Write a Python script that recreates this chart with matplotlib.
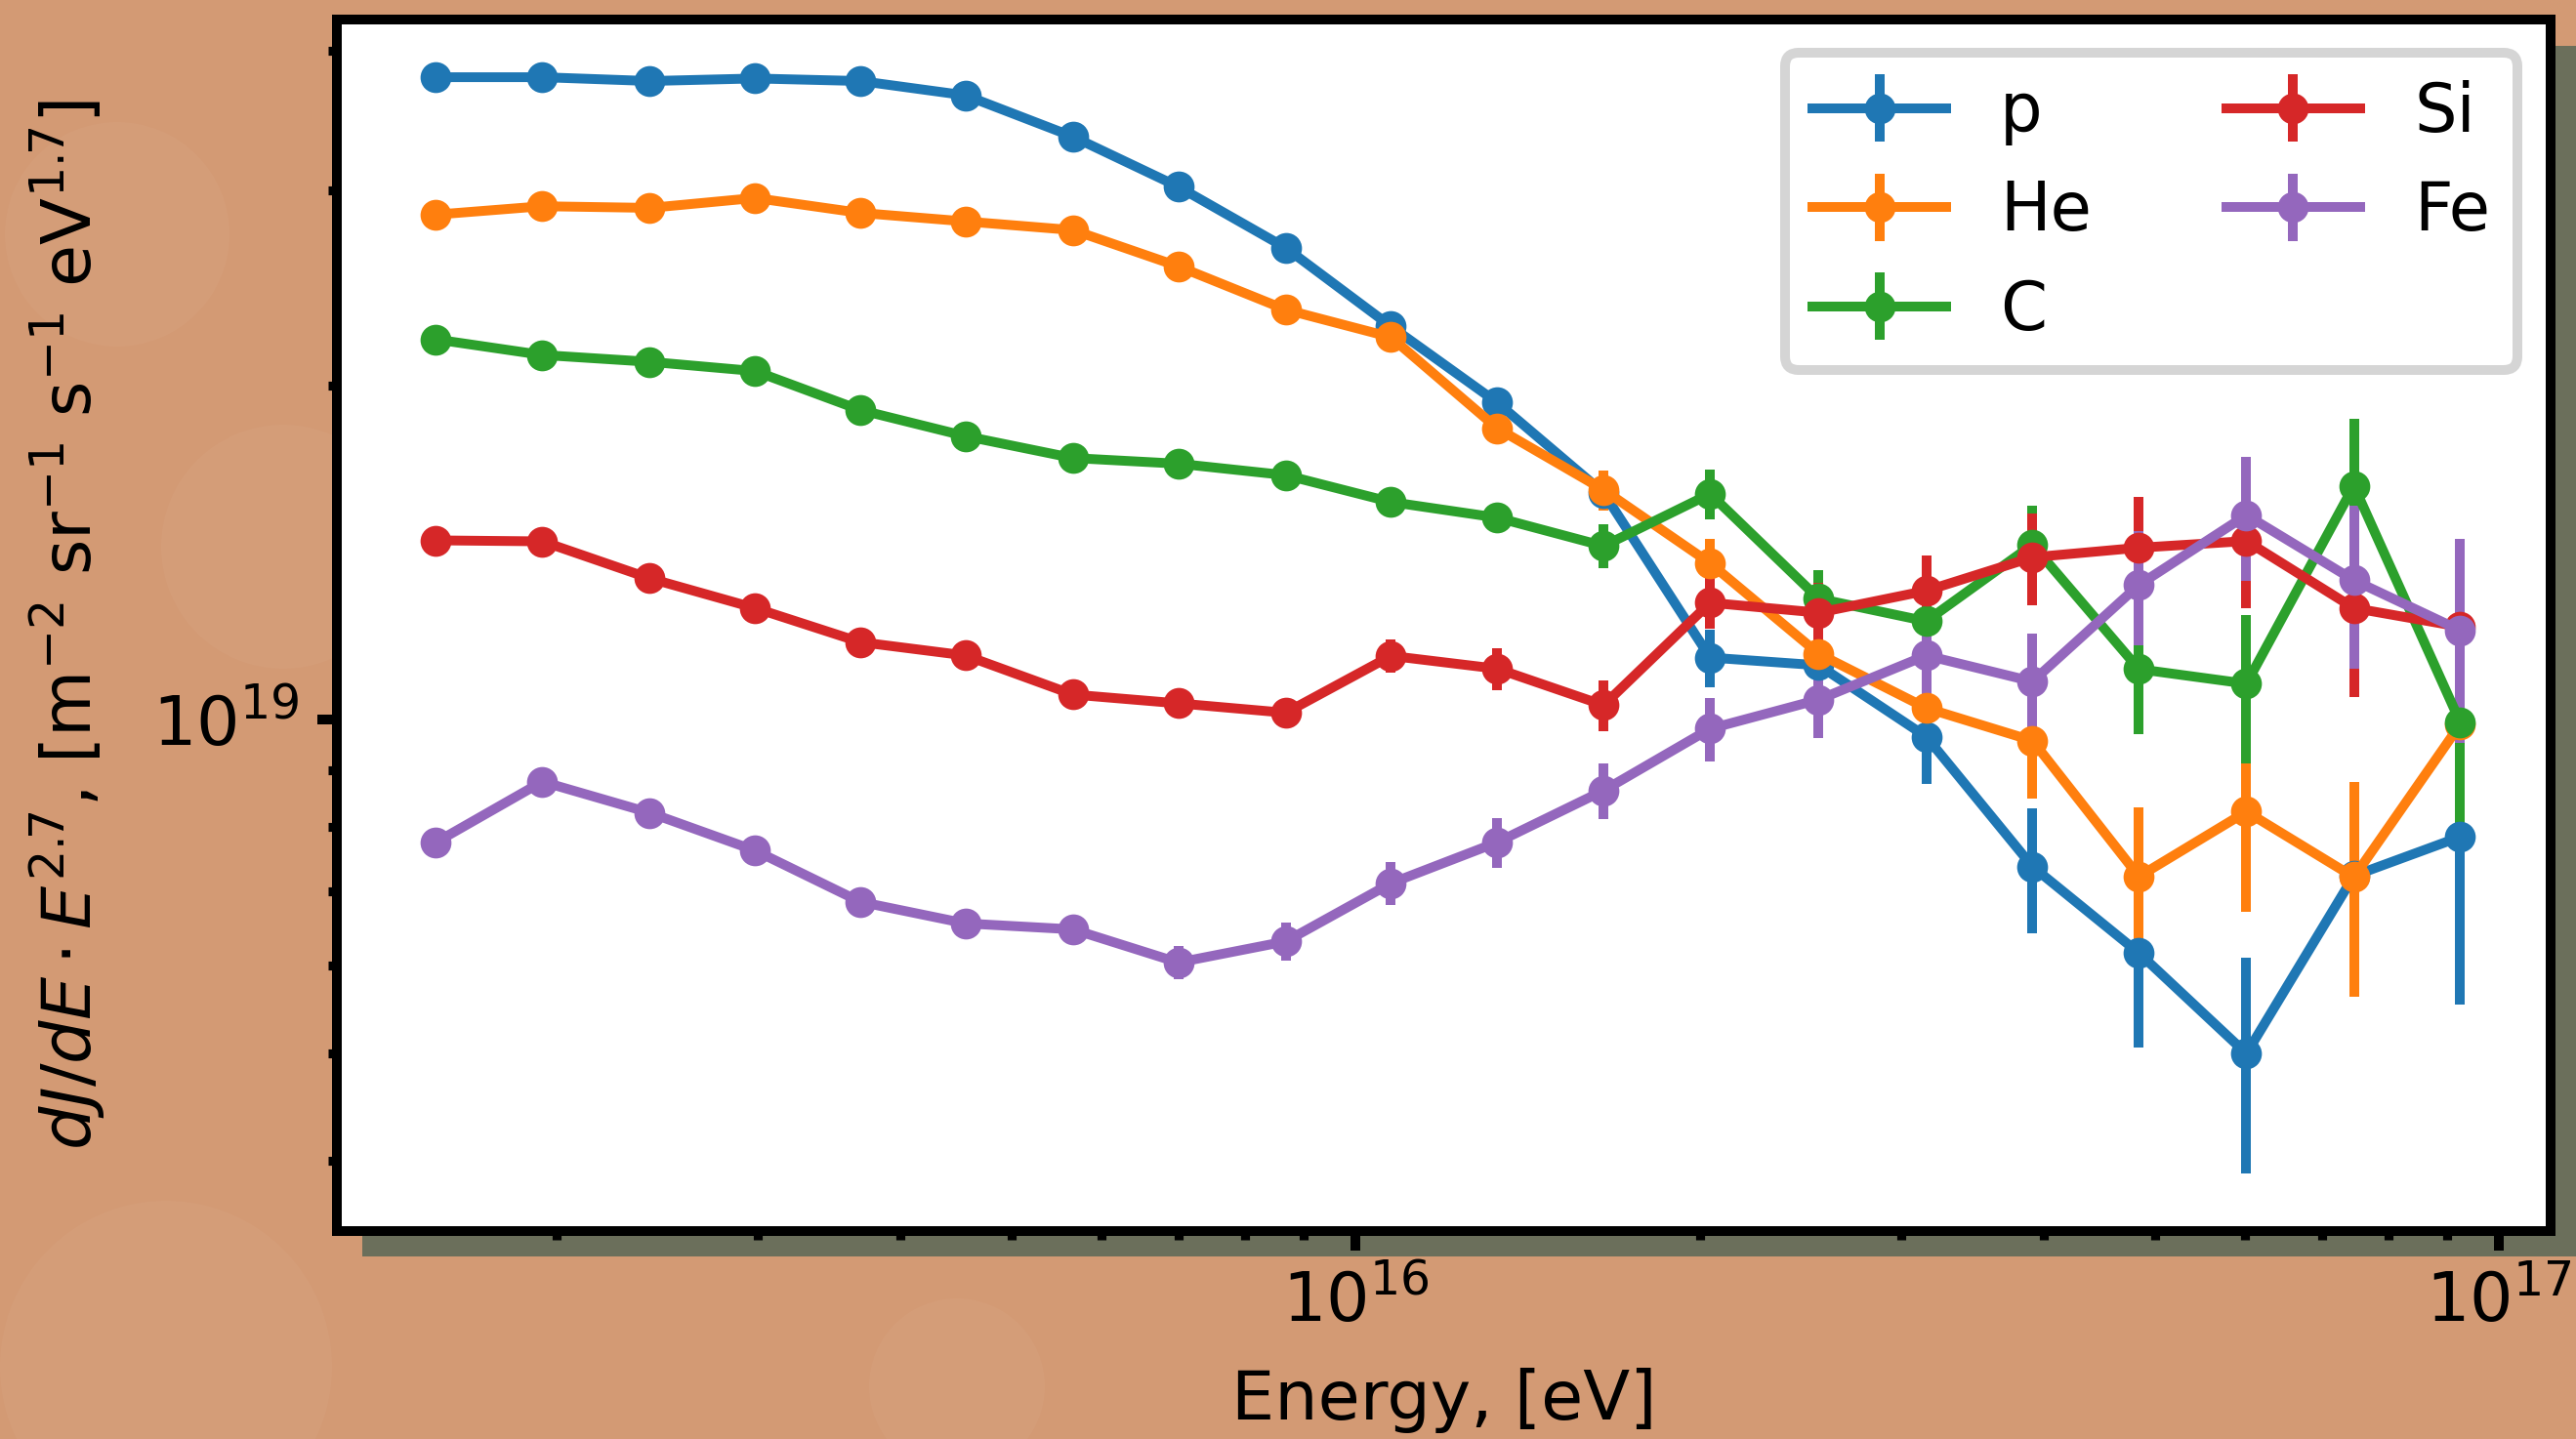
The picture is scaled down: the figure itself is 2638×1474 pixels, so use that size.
import numpy as np
import matplotlib
matplotlib.use("Agg")
import matplotlib.pyplot as plt
from matplotlib.patches import Rectangle, Circle
from matplotlib.transforms import IdentityTransform

# ---------------- data ----------------
energy = [1.570e15, 1.945e15, 2.415e15, 2.985e15, 3.690e15, 4.560e15, 5.662e15,
          6.998e15, 8.690e15, 1.074e16, 1.330e16, 1.648e16, 2.042e16, 2.541e16,
          3.155e16, 3.908e16, 4.842e16, 6.012e16, 7.464e16, 9.247e16]

species = ["p", "He", "C", "Si", "Fe"]

flux_p = [3.79e19, 3.79e19, 3.76e19, 3.78e19, 3.76e19, 3.65e19, 3.35e19, 3.02e19,
          2.66e19, 2.26e19, 1.93e19, 1.60e19, 1.137e19, 1.119e19, 0.965e19,
          0.737e19, 0.616e19, 0.500e19, 0.723e19, 0.784e19]
err_p = [0.01e19, 0.01e19, 0.01e19, 0.01e19, 0.01e19, 0.01e19, 0.012e19, 0.015e19,
         0.018e19, 0.025e19, 0.035e19, 0.05e19, 0.068e19, 0.04e19, 0.09e19,
         0.095e19, 0.11e19, 0.11e19, 0.10e19, 0.23e19]

flux_he = [2.85e19, 2.90e19, 2.89e19, 2.95e19, 2.86e19, 2.81e19, 2.76e19, 2.56e19,
           2.34e19, 2.21e19, 1.83e19, 1.61e19, 1.383e19, 1.146e19, 1.024e19,
           0.957e19, 0.722e19, 0.826e19, 0.721e19, 0.990e19]
err_he = [0.01e19, 0.01e19, 0.01e19, 0.01e19, 0.01e19, 0.012e19, 0.015e19, 0.018e19,
          0.02e19, 0.025e19, 0.045e19, 0.067e19, 0.07e19, 0.05e19, 0.08e19,
          0.108e19, 0.111e19, 0.155e19, 0.158e19, 0.15e19]

flux_c = [2.20e19, 2.13e19, 2.10e19, 2.06e19, 1.90e19, 1.80e19, 1.72e19, 1.70e19,
          1.66e19, 1.57e19, 1.52e19, 1.433e19, 1.597e19, 1.285e19, 1.226e19,
          1.437e19, 1.110e19, 1.077e19, 1.624e19, 0.994e19]
err_c = [0.01e19, 0.01e19, 0.01e19, 0.01e19, 0.012e19, 0.012e19, 0.015e19, 0.015e19,
         0.018e19, 0.02e19, 0.04e19, 0.065e19, 0.0825e19, 0.079e19, 0.06e19,
         0.12e19, 0.14e19, 0.165e19, 0.24e19, 0.19e19]

flux_si = [1.450e19, 1.447e19, 1.340e19, 1.260e19, 1.174e19, 1.142e19, 1.053e19,
           1.034e19, 1.014e19, 1.141e19, 1.111e19, 1.030e19, 1.274e19, 1.248e19,
           1.306e19, 1.400e19, 1.428e19, 1.448e19, 1.260e19, 1.212e19]
err_si = [0.008e19, 0.008e19, 0.008e19, 0.01e19, 0.01e19, 0.012e19, 0.012e19,
          0.015e19, 0.018e19, 0.04e19, 0.048e19, 0.055e19, 0.068e19, 0.08e19,
          0.10e19, 0.133e19, 0.16e19, 0.1875e19, 0.212e19, 0.15e19]

flux_fe = [0.775e19, 0.879e19, 0.824e19, 0.762e19, 0.685e19, 0.655e19, 0.647e19,
           0.604e19, 0.631e19, 0.712e19, 0.775e19, 0.863e19, 0.981e19, 1.042e19,
           1.142e19, 1.082e19, 1.322e19, 1.528e19, 1.335e19, 1.203e19]
err_fe = [0.006e19, 0.006e19, 0.006e19, 0.008e19, 0.008e19, 0.01e19, 0.012e19,
          0.021e19, 0.025e19, 0.032e19, 0.04e19, 0.05e19, 0.064e19, 0.079e19,
          0.096e19, 0.112e19, 0.155e19, 0.196e19, 0.223e19, 0.25e19]

fluxes = [flux_p, flux_he, flux_c, flux_si, flux_fe]
errors = [err_p, err_he, err_c, err_si, err_fe]
colors = ["#1f77b4", "#ff7f0e", "#2ca02c", "#d62728", "#9467bd"]

# ---------------- figure ----------------
W, H, DPI = 2638, 1474, 300
fig = plt.figure(figsize=(W / DPI, H / DPI), dpi=DPI)
bg = "#d39a74"
fig.patch.set_facecolor(bg)

# faint background texture circles (pixel coordinates, y from top)
for (cx, cy, r) in [(120, 240, 115), (290, 560, 125), (170, 1400, 170),
                    (2480, 330, 140), (980, 1420, 90)]:
    fig.patches.append(Circle((cx, H - cy), r, transform=IdentityTransform(),
                              facecolor="white", alpha=0.03, edgecolor="none",
                              zorder=-2))

# drop shadow behind the axes
fig.patches.append(Rectangle((371 / W, 1 - 1287 / H), 1.0, (1287 - 47) / H,
                             transform=fig.transFigure, facecolor="#6b6f5b",
                             edgecolor="none", zorder=-1))

left, right, top, bottom = 345 / W, 2612 / W, 20 / H, 1261 / H
ax = fig.add_axes([left, 1 - bottom, right - left, bottom - top])
ax.set_facecolor("white")

for name, fl, er, c in zip(species, fluxes, errors, colors):
    ax.errorbar(energy, fl, yerr=er, fmt="-o", color=c, lw=2.4, elinewidth=2.4,
                ms=6.6, mew=1, capsize=0, label=name)

ax.set_xscale("log")
ax.set_yscale("log")
ax.set_xlim(10 ** 15.1093, 10 ** 17.045)
ax.set_ylim(10 ** 18.5391, 10 ** 19.6306)

for s in ax.spines.values():
    s.set_linewidth(2.4)
ax.tick_params(which="major", length=4.8, width=2.4, labelsize=16.8, pad=4.5)
ax.tick_params(which="minor", length=2.2, width=2.2)
ax.yaxis.set_minor_formatter(matplotlib.ticker.NullFormatter())
ax.xaxis.set_minor_formatter(matplotlib.ticker.NullFormatter())

ax.set_xlabel("Energy, [eV]", fontsize=16.8, labelpad=8)
ax.set_ylabel(r"$dJ/dE \cdot E^{2.7}$, [m$^{-2}$ sr$^{-1}$ s$^{-1}$ eV$^{1.7}$]",
              fontsize=16.8, labelpad=11)

leg = ax.legend(ncol=2, loc="upper right", fontsize=16.5, handlelength=2.0,
                framealpha=1, fancybox=True, edgecolor="#d5d5d5")
leg.get_frame().set_linewidth(2.4)

fig.savefig("out.png", dpi=DPI, facecolor=bg)
